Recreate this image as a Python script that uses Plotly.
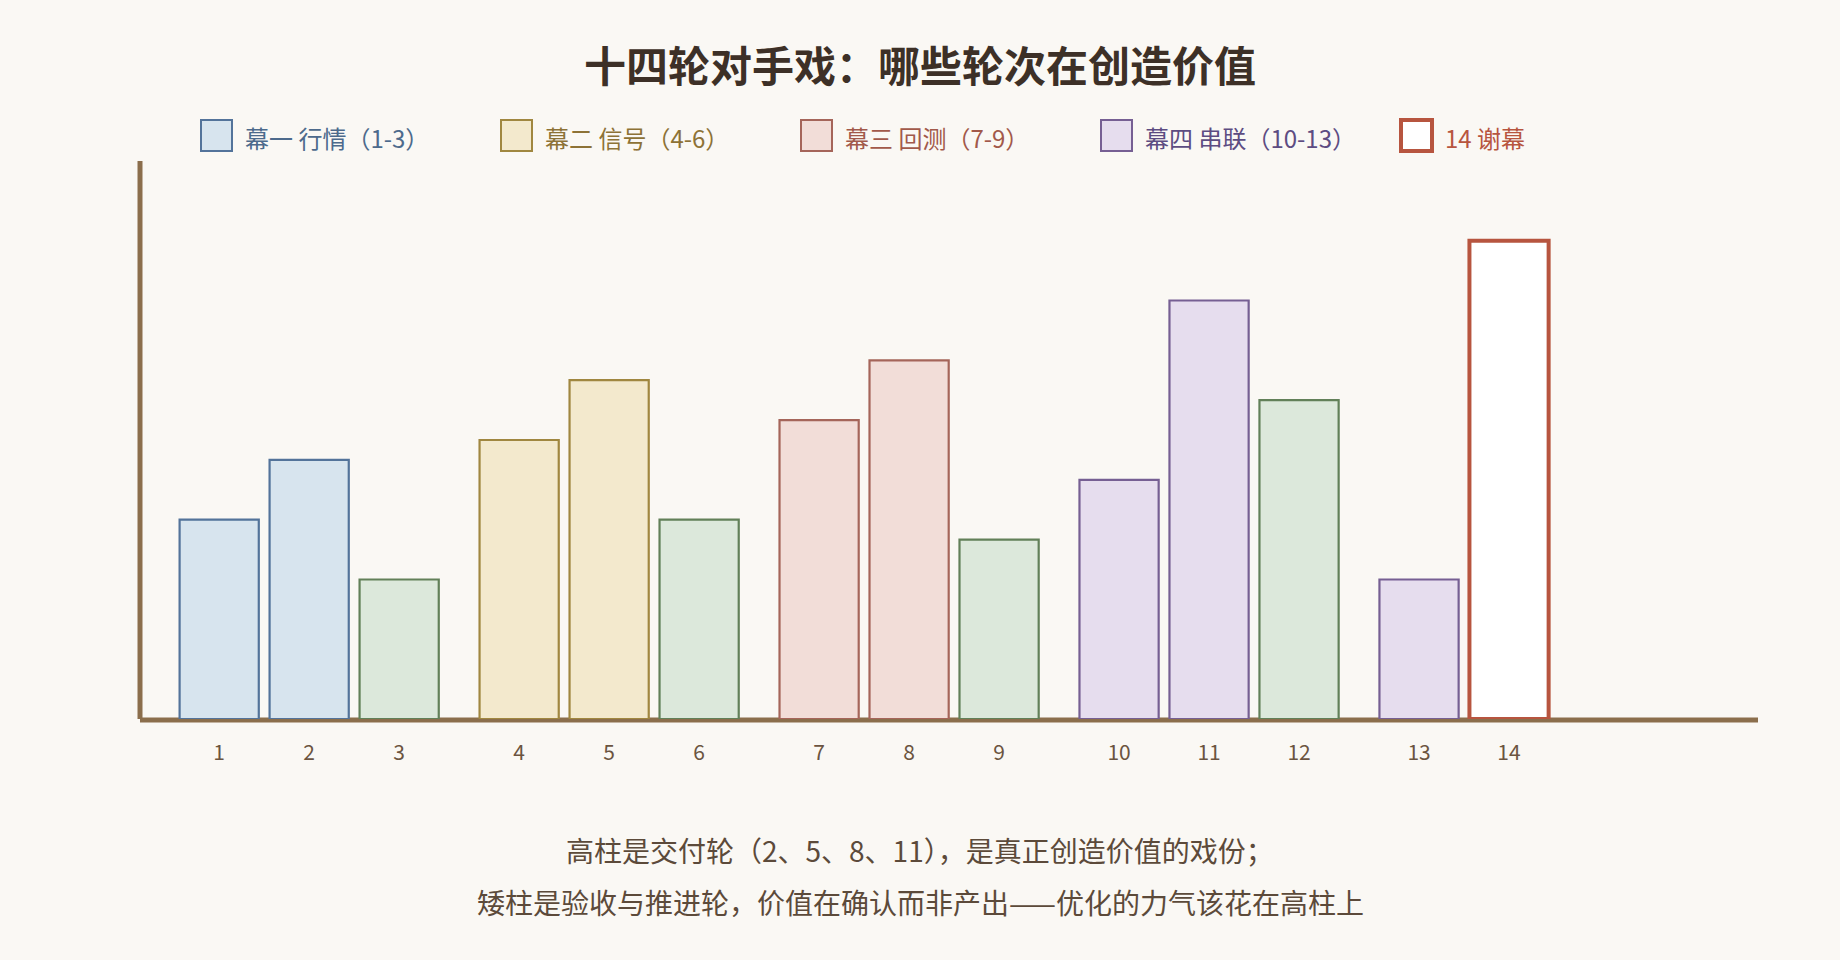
import plotly.graph_objects as go

# 每一轮的数据
rounds = ["1", "2", "3", "4", "5", "6", "7", "8", "9", "10", "11", "12", "13", "14"]
values = [10, 13, 7, 14, 17, 10, 15, 18, 9, 12, 21, 16, 7, 24]
block = [0, 0, 0, 1, 1, 1, 2, 2, 2, 3, 3, 3, 4, 4]
kind = ["act1", "act1", "check", "act2", "act2", "check", "act3", "act3", "check",
        "act4", "act4", "check", "act4", "finale"]

legend_keys = ["act1", "act2", "act3", "act4", "finale"]
legend_labels = ["幕一 行情（1-3）", "幕二 信号（4-6）", "幕三 回测（7-9）",
                 "幕四 串联（10-13）", "14 谢幕"]

fills = {"act1": "#d7e4ee", "act2": "#f3e9cd", "act3": "#f2ddd8", "act4": "#e6ddee",
         "check": "#dce8db", "finale": "#ffffff"}
strokes = {"act1": "#53739a", "act2": "#a08740", "act3": "#a5655a", "act4": "#765f93",
           "check": "#628059", "finale": "#b7553f"}
text_colors = {"act1": "#4d6a8c", "act2": "#8d7236", "act3": "#a2594a", "act4": "#5d4c82",
               "finale": "#b7553f"}

BG = "#faf8f4"
AXIS = "#8b6e4c"
W, H = 1840, 960
L, R, T, B = 140, 82, 161, 241

# 每三轮之间多留三分之一的空
xpos = [i + block[i] / 3 for i in range(len(rounds))]

fig = go.Figure()
fig.add_trace(go.Bar(
    x=xpos, y=values, width=0.88,
    marker=dict(color=[fills[k] for k in kind],
                line=dict(color=[strokes[k] for k in kind],
                          width=[4 if k == "finale" else 2.2 for k in kind])),
    hoverinfo="skip", showlegend=False,
))

pw = W - L - R
ph = H - T - B


def px_x(p):
    return (p - L) / pw


def px_y(p):
    return 1 - (p - T) / ph


# 坐标轴线：居中压在绘图区边上，柱子画在上面
shapes = [
    dict(type="line", xref="paper", yref="paper", x0=0, x1=0, y0=0, y1=1,
         line=dict(color=AXIS, width=5), layer="below"),
    dict(type="line", xref="paper", yref="paper", x0=0, x1=1, y0=px_y(720), y1=px_y(720),
         line=dict(color=AXIS, width=5), layer="below"),
]
annotations = []
for j, key in enumerate(legend_keys):
    x0 = 201 + j * 300
    shapes.append(dict(type="rect", xref="paper", yref="paper",
                       x0=px_x(x0), x1=px_x(x0 + 31), y0=px_y(151), y1=px_y(120),
                       fillcolor=fills[key], line=dict(color=strokes[key],
                                                       width=4 if key == "finale" else 2)))
    annotations.append(dict(xref="paper", yref="paper", x=px_x(x0 + 42), y=px_y(137),
                            text=legend_labels[j], showarrow=False, xanchor="left",
                            yanchor="middle", font=dict(size=24, color=text_colors[key])))

notes = ["高柱是交付轮（2、5、8、11），是真正创造价值的戏份；",
         "矮柱是验收与推进轮，价值在确认而非产出——优化的力气该花在高柱上"]
for line, yy in zip(notes, [850, 902]):
    annotations.append(dict(xref="paper", yref="paper", x=px_x(W / 2), y=px_y(yy),
                            text=line, showarrow=False, xanchor="center", yanchor="middle",
                            font=dict(size=28, color="#5c4a3a")))

fig.update_layout(
    width=W, height=H,
    margin=dict(l=L, r=R, t=T, b=B),
    paper_bgcolor=BG, plot_bgcolor=BG,
    font=dict(family="Noto Sans CJK SC, Noto Sans, sans-serif"),
    title=dict(text="<b>十四轮对手戏：哪些轮次在创造价值</b>", x=0.5, xanchor="center",
               y=1 - 67 / H, yanchor="middle", yref="container",
               font=dict(size=42, color="#3d3027")),
    xaxis=dict(range=[-0.88, 17.1], tickvals=xpos, ticktext=rounds,
               showgrid=False, zeroline=False, showline=False,
               ticks="outside", ticklen=15, tickcolor="rgba(0,0,0,0)",
               tickfont=dict(size=21, color="#6b5440")),
    yaxis=dict(range=[0, 28], showgrid=False, zeroline=False, showticklabels=False,
               showline=False),
    shapes=shapes, annotations=annotations,
)

fig.write_html("out.html", config={"displayModeBar": False},
               post_script="document.body.style.margin='0';"
                           "document.body.style.background='" + BG + "';")
